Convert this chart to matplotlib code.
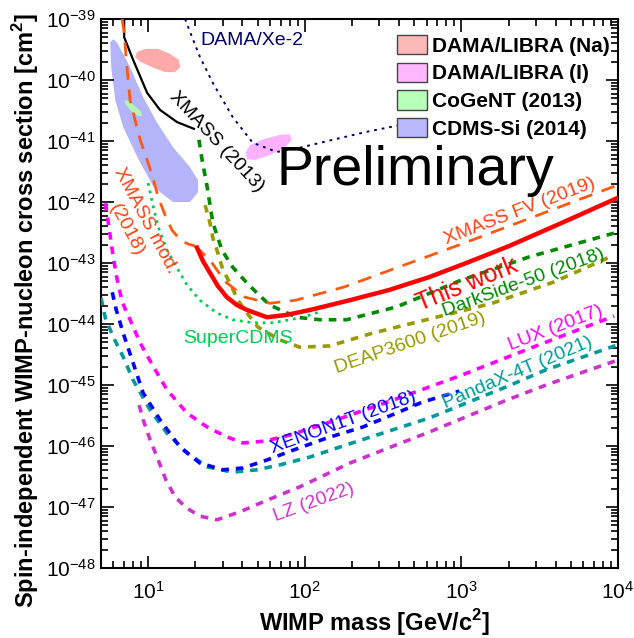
import matplotlib
matplotlib.use("Agg")
import matplotlib.pyplot as plt
import numpy as np
from matplotlib.patches import Patch
from matplotlib.ticker import FixedLocator, FuncFormatter, LogLocator, NullFormatter

plt.rcParams['font.family'] = ['Liberation Sans', 'DejaVu Sans']
plt.rcParams['mathtext.fontset'] = 'custom'
plt.rcParams['mathtext.rm'] = 'Liberation Sans'
plt.rcParams['mathtext.bf'] = 'Liberation Sans:bold'
plt.rcParams['lines.scale_dashes'] = False

# masses in GeV, cross sections as log10(sigma / cm^2)
this_m = [20.5, 22.4, 24.8, 27.9, 31.8, 36.9, 42.8, 57.3, 76.7, 108, 194, 348, 625, 1125, 2023, 4395, 10000]
this_s = [-42.75, -42.97, -43.16, -43.38, -43.56, -43.69, -43.77, -43.89, -43.85, -43.77, -43.61, -43.44,
          -43.23, -42.98, -42.72, -42.34, -41.93]

xfv_m = [19.9, 24.8, 30.9, 41.5, 59.8, 87.7, 180, 1000, 10000]
xfv_s = [-42.72, -42.95, -43.30, -43.56, -43.66, -43.61, -43.39, -42.69, -41.72]

xmod_m = [6.82, 7.03, 7.25, 7.67, 8.26, 8.89, 9.85, 10.6, 11.6, 12.8, 14.2, 16.0, 18.0, 19.9]
xmod_s = [-39.0, -39.23, -39.67, -40.33, -40.66, -40.98, -41.31, -41.56, -41.92, -42.21, -42.46, -42.62, -42.69, -42.72]

x13_m = [7.03, 7.03, 8.02, 9.85, 11.9, 15.3, 19.6]
x13_s = [-39.0, -39.30, -39.67, -40.21, -40.49, -40.69, -40.80]

xe2_m = [17.2, 19.1, 21.4, 25.9, 34.7, 46.6, 66.4, 92.9, 151, 248, 403]
xe2_s = [-39.0, -39.30, -39.62, -40.05, -40.61, -41.03, -41.18, -41.11, -40.98, -40.85, -40.74]

ds_m = [21.1, 22.1, 23.8, 25.9, 29.6, 34.7, 42.8, 49.5, 59.8, 88.9, 125, 185, 385, 1000, 2710, 9445]
ds_s = [-40.98, -41.31, -41.75, -42.34, -42.79, -43.07, -43.33, -43.49, -43.69, -43.89, -43.93, -43.93, -43.72, -43.28, -42.90, -42.51]

deap_m = [23.1, 24.8, 25.9, 27.9, 30.0, 33.3, 37.4, 42.8, 50.2, 69.3, 92.9, 144, 271, 598, 1574, 3908, 9445]
deap_s = [-42.05, -42.34, -42.59, -42.84, -43.11, -43.33, -43.61, -43.82, -44.05, -44.26, -44.38, -44.36, -44.15, -43.93, -43.66, -43.31, -42.87]

scdms_m = [10.0, 10.8, 11.6, 13.2, 15.3, 17.7, 21.4, 27.5, 34.7, 46.6, 62.5, 80.2, 97.0, 125]
scdms_s = [-41.69, -42.08, -42.41, -42.79, -43.08, -43.36, -43.61, -43.82, -43.93, -43.98, -43.98, -43.93, -43.89, -43.80]

lux_m = [5.33, 5.56, 5.90, 6.26, 6.82, 7.67, 8.89, 10.8, 13.2, 17.7, 23.8, 31.8, 40.3, 55.6, 80.2, 144, 403, 1000, 3141, 9445]
lux_s = [-42.02, -42.33, -42.79, -43.20, -43.64, -43.93, -44.31, -44.70, -45.08, -45.46, -45.69, -45.85, -45.95, -45.92, -45.82, -45.61, -45.21, -44.84, -44.34, -43.87]

x1t_m = [5.90, 6.26, 6.93, 8.02, 9.29, 11.9, 16.0, 21.4, 30.0, 40.3, 57.3, 83.9, 138, 234, 385, 564, 970]
x1t_s = [-43.48, -43.77, -44.15, -44.64, -45.13, -45.57, -46.02, -46.28, -46.39, -46.36, -46.23, -46.07, -45.87, -45.69, -45.46, -45.28, -45.10]

panda_m = [5.0, 5.33, 5.98, 6.93, 8.02, 10.3, 13.2, 17.7, 23.8, 34.7, 49.5, 69.3, 108, 185, 625, 1936, 3476, 10000]
panda_s = [-43.57, -43.90, -44.21, -44.54, -44.92, -45.41, -45.79, -46.11, -46.34, -46.43, -46.39, -46.31, -46.18, -45.98, -45.54, -45.03, -44.75, -44.34]

lz_m = [8.77, 9.29, 10.3, 11.6, 13.0, 14.9, 17.7, 21.4, 27.5, 38.5, 57.3, 92.9, 194, 625, 1936, 3476, 10000]
lz_s = [-45.33, -45.57, -45.90, -46.23, -46.56, -46.84, -47.02, -47.15, -47.21, -47.08, -46.89, -46.67, -46.28, -45.77, -45.25, -45.00, -44.59]

# allowed regions (outlines)
na_m = [8.26, 8.51, 9.57, 11.6, 13.8, 15.7, 16.0, 14.9, 12.8, 10.6, 8.89]
na_s = [-39.62, -39.54, -39.49, -39.49, -39.57, -39.67, -39.79, -39.87, -39.87, -39.79, -39.70]

iod_m = [42.1, 44.7, 53.2, 69.3, 80.2, 82.6, 74.6, 59.8, 48.1, 42.8]
iod_s = [-41.18, -41.07, -40.98, -40.90, -40.89, -40.98, -41.11, -41.23, -41.31, -41.30]

cog_m = [7.13, 7.46, 8.26, 9.02, 9.16, 8.64, 7.80, 7.13]
cog_s = [-40.33, -40.34, -40.43, -40.52, -40.59, -40.59, -40.51, -40.39]

cdms_m = [5.73, 5.81, 6.17, 6.93, 8.51, 10.8, 14.4, 18.5, 20.8, 20.8, 18.5, 14.4, 11.4, 9.29, 7.67, 6.35, 5.98]
cdms_s = [-39.38, -39.79, -40.33, -40.77, -41.26, -41.75, -42.00, -42.00, -41.84, -41.64, -41.43, -41.10, -40.70, -40.28, -39.79, -39.39, -39.33]

legend_labels = ['DAMA/LIBRA (Na)', 'DAMA/LIBRA (I)', 'CoGeNT (2013)', 'CDMS-Si (2014)']
legend_colors = ['#ffb8b8', '#ffb8ff', '#b8ffb8', '#b8b8ff']

xticks = [10, 100, 1000, 10000]
yticks = [10.0 ** e for e in range(-48, -38)]


def p(v):
    return np.power(10.0, v)


fig = plt.figure(figsize=(6.34, 6.38), dpi=100)
ax = fig.add_axes([101 / 634, 70 / 638, 517 / 634, 549 / 638])

# regions
ax.fill(cdms_m, p(cdms_s), color='#b4b4fa', lw=0, zorder=1)
ax.fill(na_m, p(na_s), color='#ffaaaa', lw=0, zorder=1)
ax.fill(iod_m, p(iod_s), color='#ffb0ff', lw=0, zorder=1)
ax.fill(cog_m, p(cog_s), color='#b4f5b4', lw=0, zorder=1)

# limits
short = (5.5, 5.0)
ax.plot(xe2_m, p(xe2_s), color='#000066', lw=1.4, dashes=(2.0, 3.5), zorder=3)
ax.plot(x13_m, p(x13_s), color='black', lw=1.6, zorder=3)
ax.plot(scdms_m, p(scdms_s), color='#00cc55', lw=2.0, dashes=(2.0, 3.5), zorder=3)
ax.plot(ds_m, p(ds_s), color='#008800', lw=2.6, dashes=short, zorder=3)
ax.plot(deap_m, p(deap_s), color='#999900', lw=2.6, dashes=short, zorder=3)
ax.plot(lux_m, p(lux_s), color='#ff00ff', lw=2.6, dashes=short, zorder=3)
ax.plot(panda_m, p(panda_s), color='#009999', lw=2.6, dashes=short, zorder=3)
ax.plot(x1t_m, p(x1t_s), color='#0000ff', lw=2.6, dashes=short, zorder=3)
ax.plot(lz_m, p(lz_s), color='#cc33cc', lw=2.6, dashes=short, zorder=3)
ax.plot(xmod_m, p(xmod_s), color='#ff5a10', lw=2.0, dashes=(10.0, 7.0), zorder=4)
ax.plot(xfv_m, p(xfv_s), color='#ff5a10', lw=2.0, dashes=(10.0, 7.0), zorder=4)
ax.plot(this_m, p(this_s), color='#ff0000', lw=3.2, zorder=5)

# labels on the curves
fs = 14
ax.text(21.4, p(-39.36), 'DAMA/Xe-2', color='#000066', fontsize=fs, ha='left', va='center')
ax.text(27.5, p(-41.02), 'XMASS (2013)', color='black', fontsize=fs, rotation=-47,
        ha='center', va='center', rotation_mode='anchor')
ax.text(8.39, p(-42.38), 'XMASS mod.\n(2018)', color='#ff4414', fontsize=fs, rotation=-62,
        ha='center', va='center', rotation_mode='anchor', multialignment='center', linespacing=1.3)
ax.text(66.4, p(-41.72), 'Preliminary', color='black', fontsize=40, ha='left', va='baseline')
ax.text(2377, p(-42.16), 'XMASS FV (2019)', color='#ff4414', fontsize=fs, rotation=21,
        ha='center', va='center', rotation_mode='anchor')
ax.text(1091, p(-43.36), 'This work', color='#ff0000', fontsize=18, rotation=22,
        ha='center', va='center', rotation_mode='anchor')
ax.text(2483, p(-43.33), 'DarkSide-50 (2018)', color='#008800', fontsize=fs, rotation=20,
        ha='center', va='center', rotation_mode='anchor')
ax.text(473, p(-44.31), 'DEAP3600 (2019)', color='#999900', fontsize=fs, rotation=19,
        ha='center', va='center', rotation_mode='anchor')
ax.text(37.4, p(-44.23), 'SuperCDMS', color='#00cc55', fontsize=fs, ha='center', va='center')
ax.text(3972, p(-44.07), 'LUX (2017)', color='#ff00ff', fontsize=fs, rotation=21,
        ha='center', va='center', rotation_mode='anchor')
ax.text(2275, p(-44.80), 'PandaX-4T (2021)', color='#009999', fontsize=fs, rotation=23,
        ha='center', va='center', rotation_mode='anchor')
ax.text(177, p(-45.62), 'XENON1T (2018)', color='#0000ff', fontsize=fs, rotation=20,
        ha='center', va='center', rotation_mode='anchor')
ax.text(114, p(-46.92), 'LZ (2022)', color='#cc33cc', fontsize=fs, rotation=20,
        ha='center', va='center', rotation_mode='anchor')

# legend
handles = [Patch(facecolor=c, edgecolor='#444444', lw=1.0) for c in legend_colors]
ax.legend(handles, legend_labels, loc='upper left', bbox_to_anchor=(296 / 517, 533 / 549),
          frameon=False, borderpad=0, borderaxespad=0, handlelength=1.45, handleheight=1.05,
          handletextpad=0.22, labelspacing=0.33, prop={'weight': 'bold', 'size': 15})

# axes
ax.set_xscale('log')
ax.set_yscale('log')
ax.set_xlim(5, 1e4)
ax.set_ylim(1e-48, 1e-39)
ax.xaxis.set_major_locator(FixedLocator(xticks))
ax.yaxis.set_major_locator(FixedLocator(yticks))
ax.xaxis.set_minor_locator(LogLocator(base=10, subs=np.arange(2, 10), numticks=20))
ax.yaxis.set_minor_locator(LogLocator(base=10, subs=np.arange(2, 10), numticks=20))
ax.xaxis.set_minor_formatter(NullFormatter())
ax.yaxis.set_minor_formatter(NullFormatter())
fmt = FuncFormatter(lambda v, pos: r'$\mathregular{10^{%d}}$' % int(round(np.log10(v))))
ax.xaxis.set_major_formatter(fmt)
ax.yaxis.set_major_formatter(fmt)
ax.tick_params(which='both', direction='in', top=True, right=True, labelsize=15, width=1.2)
ax.tick_params(which='major', length=9)
ax.tick_params(which='minor', length=5)
ax.tick_params(axis='x', pad=9)
ax.tick_params(axis='y', pad=4)
for s in ax.spines.values():
    s.set_linewidth(1.5)

fig.text(26 / 634, 1 - 311 / 638, 'Spin-independent WIMP-nucleon cross section [cm$^{\\mathbf{2}}$]',
         rotation=90, ha='center', va='center', fontsize=17, fontweight='bold')
fig.text(375 / 634, 1 - 623 / 638, 'WIMP mass [GeV/c$^{\\mathbf{2}}$]',
         ha='center', va='center', fontsize=17, fontweight='bold')

fig.savefig('out.png', dpi=100)
